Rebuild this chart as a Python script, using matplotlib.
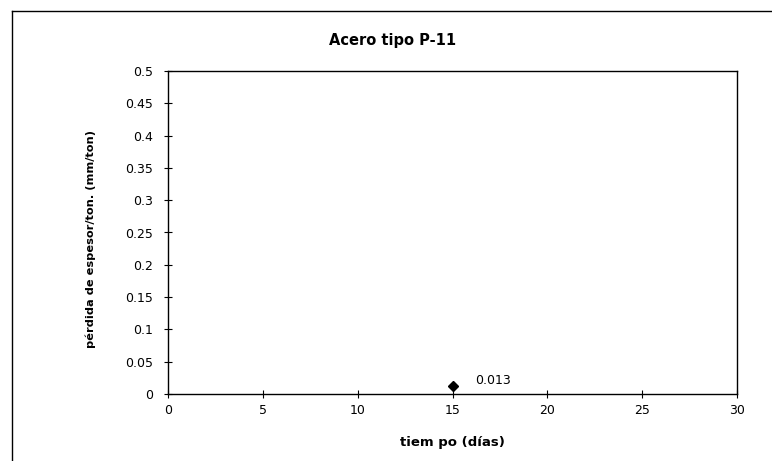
import matplotlib
matplotlib.use("Agg")
import matplotlib.pyplot as plt
from matplotlib.lines import Line2D

days = [15]
loss = [0.013]
point_labels = ["0.013"]
x_ticks = [0, 5, 10, 15, 20, 25, 30]
y_ticks = [0, 0.05, 0.1, 0.15, 0.2, 0.25, 0.3, 0.35, 0.4, 0.45, 0.5]
y_tick_labels = ["0", "0.05", "0.1", "0.15", "0.2", "0.25", "0.3", "0.35", "0.4", "0.45", "0.5"]

plt.rcParams['font.family'] = ['DejaVu Sans']

W, H = 772, 461
fig = plt.figure(figsize=(W / 100, H / 100), dpi=100)
fig.patch.set_facecolor("white")

# outer chart border (top and left edges visible)
fig.add_artist(Line2D([12 / W, 1.0], [1 - 11 / H, 1 - 11 / H],
                      transform=fig.transFigure, color="black", linewidth=1.0))
fig.add_artist(Line2D([12 / W, 12 / W], [1 - 11 / H, 0.0],
                      transform=fig.transFigure, color="black", linewidth=1.0))

L, R, T, B = 168, 737, 71, 394
ax = fig.add_axes([L / W, 1 - B / H, (R - L) / W, (B - T) / H])
ax.set_xlim(0, 30)
ax.set_ylim(0, 0.5)

ax.plot(days, loss, linestyle="none", marker="D", markersize=5,
        color="black")
for x, y, t in zip(days, loss, point_labels):
    ax.annotate(t, (x, y), xytext=(16, 3.5), textcoords="offset points",
                fontsize=9, ha="left", va="center")

ax.set_xticks(x_ticks)
ax.set_xticklabels([str(v) for v in x_ticks], fontsize=9)
ax.set_yticks(y_ticks)
ax.set_yticklabels(y_tick_labels, fontsize=9)
ax.tick_params(direction="inout", length=6, width=0.8, colors="black")
ax.tick_params(axis="x", pad=4)
ax.tick_params(axis="y", pad=8)

for s in ax.spines.values():
    s.set_color("black")
    s.set_linewidth(1.0)

fig.text(393 / W, 1 - 41 / H, "Acero tipo P-11", fontsize=10.5,
         fontweight="bold", ha="center", va="center")
ax.set_xlabel("tiem po (días)", fontsize=9.5, fontweight="bold", labelpad=14)
ax.set_ylabel("pérdida de espesor/ton. (mm/ton)", fontsize=8.2, fontweight="bold")
ax.yaxis.set_label_coords((96 - L) / (R - L), 0.48)

fig.savefig("out.png", dpi=100, facecolor="white")
